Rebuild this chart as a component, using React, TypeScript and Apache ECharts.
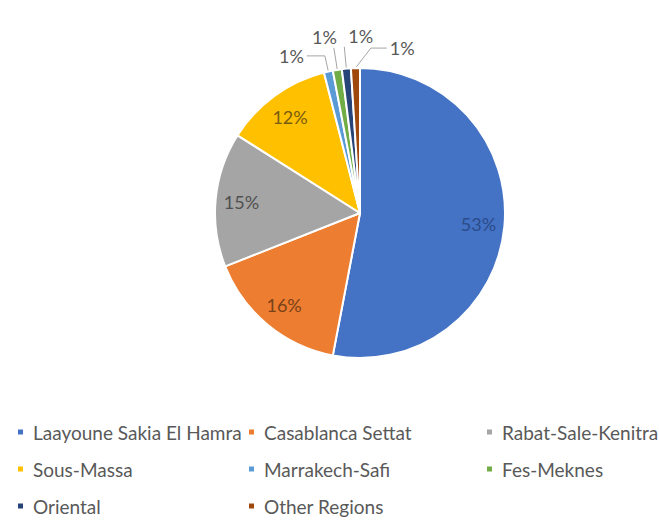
import React, { useEffect, useRef } from "react";
import * as echarts from "echarts";

const REGIONS = [
  "Laayoune Sakia El Hamra",
  "Casablanca Settat",
  "Rabat-Sale-Kenitra",
  "Sous-Massa",
  "Marrakech-Safi",
  "Fes-Meknes",
  "Oriental",
  "Other Regions",
];
const SHARES = [53, 16, 15, 12, 1, 1, 1, 1];
const COLORS = ["#4472C4", "#ED7D31", "#A5A5A5", "#FFC000", "#5B9BD5", "#70AD47", "#264478", "#9E480E"];
const INSIDE_LABEL_COLORS = ["#2b4c8a", "#7a4218", "#505050", "#7a5c10"];
const LEGEND_COLUMNS = [[0, 3, 6], [1, 4, 7], [2, 5]];
// small-slice label placement style: default left, above-left, above-right, right
const SMALL_MODES: Record<number, string> = { 4: "left", 5: "upLeft", 6: "upRight", 7: "right" };
const SMALL_LEN1: Record<number, number> = { 4: 16, 5: 22, 6: 22, 7: 20 };
const SMALL_LEN2: Record<number, number> = { 4: 18, 5: 0, 6: 0, 7: 16 };

const FONT = "Lato";

export default function App() {
  const ref = useRef<HTMLDivElement>(null);
  useEffect(() => {
    if (!ref.current) return;
    const chart = echarts.init(ref.current, undefined, { renderer: "svg" });
    const pct = (p: any) => Math.round(p.percent) + "%";
    const center = [360, 213];
    const R = 145;

    const mainData = REGIONS.map((name, i) => {
      const small = i >= 4;
      return {
        name,
        value: SHARES[i],
        label: { show: small },
        labelLine: small
          ? { show: true, length: SMALL_LEN1[i], length2: SMALL_LEN2[i] }
          : { show: false },
      };
    });
    const innerData = REGIONS.map((name, i) => ({
      name,
      value: SHARES[i],
      label: { show: i < 4, color: INSIDE_LABEL_COLORS[i] },
    }));

    const legends = LEGEND_COLUMNS.map((col, k) => ({
      orient: "vertical",
      left: [16, 247, 485][k],
      top: 422,
      padding: 0,
      itemWidth: 7,
      itemHeight: 7,
      itemGap: 17,
      icon: "rect",
      selectedMode: false,
      data: col.map((i) => REGIONS[i]),
      textStyle: {
        fontFamily: FONT,
        fontSize: 19,
        color: "#595959",
        lineHeight: 20,
        padding: [0, 0, 0, 4],
      },
    }));

    chart.setOption({
      animation: false,
      color: COLORS,
      legend: legends,
      series: [
        {
          type: "pie",
          center,
          radius: [0, R],
          startAngle: 90,
          clockwise: true,
          avoidLabelOverlap: false,
          itemStyle: { borderColor: "#ffffff", borderWidth: 2 },
          label: {
            position: "outside",
            formatter: pct,
            fontFamily: FONT,
            fontSize: 18,
            color: "#595959",
            distanceToLabelLine: 3,
          },
          labelLine: { lineStyle: { color: "#a6a6a6", width: 1 } },
          labelLayout: (p: any) => {
            if (p.seriesIndex !== 0) return {};
            const mode = SMALL_MODES[p.dataIndex];
            const pts = p.labelLinePoints;
            if (!mode || mode === "left" || !pts) return {};
            const a = pts[0];
            const b = pts[1];
            if (mode === "upLeft") {
              return { x: b[0] + 3, y: b[1] - 2, align: "right", verticalAlign: "bottom", labelLinePoints: [a, b, b] };
            }
            if (mode === "upRight") {
              return { x: b[0] + 4, y: b[1] - 2, align: "left", verticalAlign: "bottom", labelLinePoints: [a, b, b] };
            }
            const shift = SMALL_LEN1[p.dataIndex] * 0.8;
            const b2 = [b[0] + shift, b[1]];
            const c2 = [b2[0] + SMALL_LEN2[p.dataIndex], b2[1]];
            return { x: c2[0] + 3, y: c2[1], align: "left", verticalAlign: "middle", labelLinePoints: [a, b2, c2] };
          },
          data: mainData,
        },
        {
          type: "pie",
          center,
          radius: [R * 0.6, R],
          startAngle: 90,
          clockwise: true,
          silent: true,
          itemStyle: { color: "rgba(0,0,0,0)", borderWidth: 0 },
          label: {
            position: "inside",
            formatter: pct,
            fontFamily: FONT,
            fontSize: 18,
          },
          labelLine: { show: false },
          data: innerData,
        },
      ],
    });
    return () => chart.dispose();
  }, []);
  return <div ref={ref} style={{ position: "fixed", left: 0, top: 0, width: 659, height: 520, background: "#fff" }} />;
}
